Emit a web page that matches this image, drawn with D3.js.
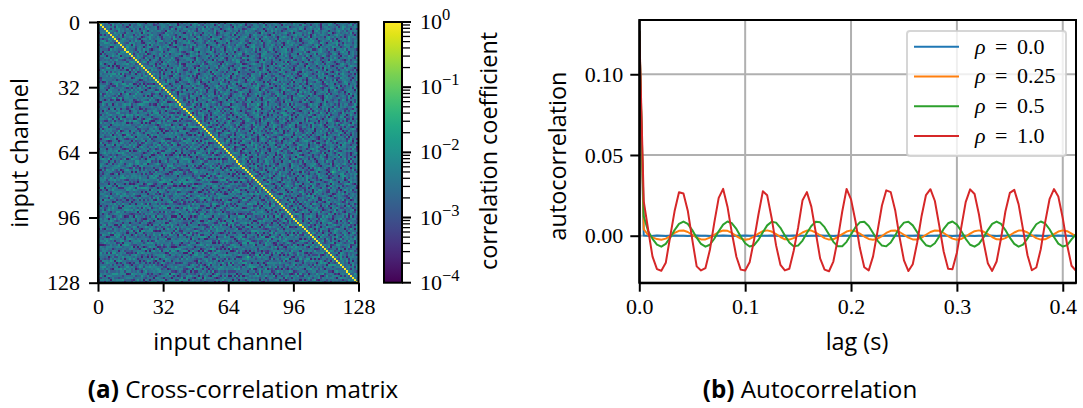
<!DOCTYPE html>
<html>
<style>
 body{ margin:0; background:#fff; }
 svg{ display:block; background:#fff; }
 .tick-label{ font-family:"Liberation Serif",serif; font-size:22px; fill:#000; }
 .label{ font-family:"Open Sans",sans-serif; font-size:23.4px; fill:#000; }
 .caption{ font-family:"Open Sans",sans-serif; font-size:24.2px; fill:#000; }
 .axis path, .axis line{ stroke:#000; stroke-width:2px; }
 .grid line{ stroke:#b0b0b0; stroke-width:2px; }
</style>
<body>
<svg width="1083" height="408"></svg>
</body>
<script src="https://d3js.org/d3.v7.min.js"></script>
<script>

var channelTicks = [0,32,64,96,128];
var lagTicks = [0,0.1,0.2,0.3,0.4];
var lagTickLabels = ["0.0","0.1","0.2","0.3","0.4"];
var acfTicks = [0,0.05,0.10];
var acfTickLabels = ["0.00","0.05","0.10"];
var rhoLabels = ["0.0","0.25","0.5","1.0"];
var lineColors = ["#1f77b4","#ff7f0e","#2ca02c","#d62728"];
var cbarExponents = [0,-1,-2,-3,-4];
var cbarMinors = [2,3,4,5,6,7,8,9];

// lag of each sample in seconds
var lags = [0,0.0042,0.0083,0.0125,0.0167,0.0208,0.025,0.0292,0.0333,0.0375,
0.0417,0.0458,0.05,0.0542,0.0583,0.0625,0.0667,0.0708,0.075,0.0792,
0.0833,0.0875,0.0917,0.0958,0.1,0.1042,0.1083,0.1125,0.1167,0.1208,
0.125,0.1292,0.1333,0.1375,0.1417,0.1458,0.15,0.1542,0.1583,0.1625,
0.1667,0.1708,0.175,0.1792,0.1833,0.1875,0.1917,0.1958,0.2,0.2042,
0.2083,0.2125,0.2167,0.2208,0.225,0.2292,0.2333,0.2375,0.2417,0.2458,
0.25,0.2542,0.2583,0.2625,0.2667,0.2708,0.275,0.2792,0.2833,0.2875,
0.2917,0.2958,0.3,0.3042,0.3083,0.3125,0.3167,0.3208,0.325,0.3292,
0.3333,0.3375,0.3417,0.3458,0.35,0.3542,0.3583,0.3625,0.3667,0.3708,
0.375,0.3792,0.3833,0.3875,0.3917,0.3958,0.4,0.4042,0.4083,0.4125];

var acfRho0 = [0.127,0.0002,0,-0.0001,0.0001,0,-0.0001,0,0.0001,0,
0,-0.0001,0,0.0001,0,0,-0.0001,0,0,0.0001,
0,-0.0001,0,0,0.0001,0,0,-0.0001,0,0,
0.0001,0,-0.0001,0,0,0.0001,0,0,-0.0001,0,
0,0.0001,0,0,-0.0001,0,0.0001,0,0,-0.0001,
0,0,0.0001,0,-0.0001,0,0,0.0001,0,0,
-0.0001,0,0,0.0001,0,-0.0001,0,0,0.0001,0,
0,-0.0001,0,0.0001,0,0,-0.0001,0,0,0.0001,
0,-0.0001,0,0,0.0001,0,0,-0.0001,0,0,
0.0001,0,-0.0001,0,0,0.0001,0,0,-0.0001,0];

var acfRho25 = [0.127,0.004,0.0005,-0.001,-0.0021,-0.0025,-0.0018,-0.0002,0.0017,0.003,
0.0032,0.0023,0.0006,-0.0012,-0.0023,-0.0023,-0.0012,0.0006,0.0023,0.0032,
0.003,0.0017,-0.0002,-0.0018,-0.0025,-0.002,-0.0005,0.0013,0.0028,0.0033,
0.0026,0.001,-0.0008,-0.0022,-0.0024,-0.0015,0.0003,0.002,0.0032,0.0032,
0.002,0.0003,-0.0015,-0.0024,-0.0022,-0.0008,0.001,0.0026,0.0033,0.0028,
0.0013,-0.0005,-0.002,-0.0025,-0.0018,-0.0002,0.0017,0.003,0.0032,0.0023,
0.0006,-0.0012,-0.0023,-0.0023,-0.0012,0.0006,0.0023,0.0032,0.003,0.0017,
-0.0002,-0.0018,-0.0025,-0.002,-0.0005,0.0013,0.0028,0.0033,0.0026,0.001,
-0.0008,-0.0022,-0.0024,-0.0015,0.0003,0.002,0.0032,0.0032,0.002,0.0003,
-0.0015,-0.0024,-0.0022,-0.0008,0.001,0.0026,0.0033,0.0028,0.0013,-0.0005];

var acfRho50 = [0.127,0.012,0.0029,-0.0019,-0.0055,-0.0068,-0.0051,-0.0012,0.0035,0.0073,
0.0088,0.0073,0.0035,-0.0012,-0.0051,-0.0068,-0.0056,-0.0019,0.0028,0.0069,
0.0088,0.0077,0.0042,-0.0005,-0.0047,-0.0067,-0.0059,-0.0026,0.0021,0.0064,
0.0087,0.0081,0.0049,0.0002,-0.0042,-0.0066,-0.0061,-0.003,0.0017,0.006,
0.0086,0.0083,0.0053,0.0007,-0.0038,-0.0065,-0.0065,-0.0038,0.0007,0.0053,
0.0083,0.0086,0.006,0.0017,-0.003,-0.0061,-0.0066,-0.0042,0.0002,0.0049,
0.0081,0.0087,0.0064,0.0021,-0.0026,-0.0059,-0.0067,-0.0047,-0.0005,0.0042,
0.0077,0.0088,0.0069,0.0028,-0.0019,-0.0056,-0.0068,-0.0051,-0.0012,0.0035,
0.0073,0.0088,0.0073,0.0035,-0.0012,-0.0051,-0.0068,-0.0055,-0.0017,0.003,
0.0071,0.0088,0.0076,0.004,-0.0008,-0.0049,-0.0067,-0.0058,-0.0023,0.001];

var acfRho100 = [0.127,0.0213,0.004,-0.013,-0.0207,-0.0217,-0.0168,-0.0004,0.0151,0.0269,
0.0261,0.0155,-0.0023,-0.019,-0.0215,-0.02,-0.0087,0.008,0.0234,0.029,
0.018,0.0015,-0.013,-0.021,-0.0215,-0.0165,-0.003,0.013,0.0275,0.025,
0.011,-0.006,-0.018,-0.0215,-0.0205,-0.0095,0.005,0.022,0.027,0.018,
0.002,-0.014,-0.021,-0.022,-0.016,-0.002,0.015,0.029,0.0225,0.009,
-0.0075,-0.0195,-0.0215,-0.0128,0.0027,0.0187,0.0281,0.027,0.0158,-0.0007,
-0.0153,-0.0219,-0.0177,-0.0042,0.0124,0.0252,0.0288,0.0215,0.0064,-0.0098,
-0.0205,-0.0208,-0.0105,0.0055,0.0208,0.0287,0.0258,0.0133,-0.0033,-0.017,
-0.0218,-0.016,-0.0016,0.015,0.0265,0.0284,0.0194,0.0038,-0.0121,-0.0214,
-0.0197,-0.0084,0.0081,0.0226,0.0289,0.0243,0.0109,-0.0059,-0.0186,-0.0217];

var acfSeries = [acfRho0, acfRho25, acfRho50, acfRho100];

// log10 of the coefficient for each digit used in corrRows
var levelExponents = [-4,-3.8,-3.65,-3.45,-3.2,-2.8,-2.5,-2.25,-1.95,-1.7];

// the matrix is symmetric: one row per channel, cells right of the diagonal only
var corrRows = [
"6756267557476665758665276646377568556626475766874563657756366267785665735576648627556765367756486675266557763566785276656647536",
"7566385767466275578656676345677658667256566377685476667258657663675786265477656836756766275665767487563667527658766356765784",
"5676738665527756667486566725776634657866257675567385766647566752867657436677568657662756678355667745686576267756657368756",
"6637578665746757265686667357566486276577656637586675476625678657756346678756625767586654376677586266757683567765476685672",
"7765486756627675586367667755287665746658675366777565846762567567375867664567726586756356678675467566278657763665786574676",
"5586765376675672867756655438667576752667586563767658247667756836657766574286756637566785472677565863667576587246756675836",
"6675828666375775647866525778665367676584756267758663565776482675667358766756427856756635678674756268567765365786764567526",
"7567366785576246786657537667584626775663786565727667845676567367852667564786657526787663675674582676656378675764625867756",
"6368756657426775865677356664875662756783675654687762567658636775566487267675657386665748562677586637665785472676758656",
"5776647586725665763788566574267675853667764585626776687356657744867657266786537576687654725667786635766584672577686",
"7654877566326786757556468372656778663567548676625767385665786742567568367756567426867756635578766487526677856375664",
"6577285666747385676567624876563657784666725677586356756487662767855663675874657266785763567664786275677658365877",
"5866746762578655376768654267767583657766482567756368756765742688665736677564827676556387665476827567658766356774",
"7665377586742566875636776487665527876656738465772667586356766584726756873656778462566785767335786647562677684",
"6756486727567655836687765743668756276577863665748567266758657637667845762567786536766584267767865536765478672",
"7367565824676586657366778652476685766357756486627575688367656642787665567386754766285676658376675447862567",
"5586744676 2657738656 6764275587 6635667748 5276566573 8676452677 5638766674 5267586367 7556486267 6558743766 5527",
"6775385664 7726756586 3466777542 8656673665 7578426667 5538767765 4266858673 5677564276 6587365567 7426657586 3667",
"7466582677 5365768674 2565777638 6647566284 7756365868 7546267765 5837664756 2667758436 5766286577 4656387667 5425",
"5687366754 6275866573 7665482767 5636877654 4276656688 3577566427 7865635766 7482567756 3686547766 2578653675 6476",
"6554776263 6875766548 3276677565 8436766572 7586654667 2356787664 7565283667 7584665376 4276568657 3766652478 6575",
"7665483675 5726667586 3767544286 6756677358 6654276587 7635666748 5267576863 7565447662 8756636757 6842566775 3687",
"5777664286 5653768756 4667287565 7366584767 6275568634 7766752485 6676355786 6472765658 3766547286 7566375486 7652",
"6486755372 6677586634 7566827654 7765386667 4752686576 3667745862 6757638566 7426758665 3577664826 7565367686 5472",
"7655638466 7274866575 3678565467 2867654736 6778265566 4375867762 6546877356 6684275767 5638665774 2686576537 6657",
"5866472767 5586365776 6842567675 3866574667 2785656347 7668452765 7663586674 7526687653 5676842667 5737866546 2776",
"6574767532 8665766483 6275677586 3654766826 7457656387 6672586644 7765368675 6427785566 3867675428 6657763565 8746",
"6728566475 7636687654 2767586635 4776685267 5663747686 5427667583 6675746862 5766378564 6772866554 3876765267",
"7565386764 6257786636 5487667265 7583675644 7662868765 3566747528 6767563866 7452667785 3656674826 5776637586",
"5674866723 7655876468 2567377665 8546276768 6535774866 6273568764 7566482767 5836654776 2865767634 6875576426",
"6886257565 7643766785 4267566638 7764586265 7767354866 5782646675 8636756747 5268676653 4867726556 7836675464",
"7456367682 6775864567 3266578746 6385676427 7565868634 6767526486 6757365847 6625766854 3677568264 6575738667",
"5767648625 6563877664 7266585746 3787665624 6576883567 6427665786 3546777526 8656764367 5886276456 6738576654",
"6634776582 7565468672 6763586547 7266854676 3567726845 6776536868 7546267657 6385664772 6587543667 7628656745",
"7585263666 7648575637 6627486676 5534787662 5667864736 5677482656 6763858674 6256776835 6764572686 6574376658",
"5662877546 3676854667 7264568763 5766847265 6867536674 4786625757 6386466785 2676574836 6756647285 7656386674",
"6747556387 6652764867 6583756426 7678653466 7285676546 3866774526 5688663757 6442786765 3567648627 7565866374",
"7566483677 2658765664 3786572666 7458367665 7428656768 3576646287 6657385667 7426867556",
"5873666472 7656687354 6766285747 6563876647 5266786753 5647682667 5738466577 6286754663",
"6656274875 6763668754 2576678635 7466825767 5683676454 7286675653 7866246776 5836657746",
"7744586362 7686565473 6678256766 4385776562 6847667536 6582747665 4368677526 8657646375",
"5668726547 6763586675 4426877656 3765686247 6675738564 6672865576 3476682576 7653864767",
"6537656842 7766385647 6725867565 4367788256 6746533687 6672547656 8367664758 2675676543",
"7875463667 2566784736 5768652647 6673856675 4827656637 7685426765 7368566472 7586657364",
"6264877565 3687664756 2578676345 6867526647 7563688746 5267657638 6754866275 7664385767",
"5746685372 6676586447 2667578356 6784576263 7665488762 5637665874 2676756835 6646772586",
"7655824667 5387664775 6268576436 7768254656 7386664857 2667564378 6756482676 5587365647",
"6668347265 7756842676 5636787546 6274586673 7657468265 6673857664 7526678653",
"7473666582 6575687246 6737865646 2857667543 7686264576 6748356672 7565886423",
"5765286674 7636855767 4265678364 6772586546 7635477682 6566873647 5726675864",
"6586745266 3777654862 5676385746 6627587663 5468772656 6473866785 2656746378",
"7642567836 6758646275 7653486677 2566874635 7686625477 5638656764 2877656463",
"5787364662 5676847536 6728657746 6358267565 7486673546 7682665758 3647652676",
"6654877265 3676485666 2768574637 5866477263 6765843657 6627685764 5378662547",
"7566246788 5637665476 8267766535 4786672656 7386645867 2576766384 6557862764",
"5683767544 7266875663 6748527657 6654368776 2665874637 5776482566 7683564627",
"6745566287 6674835766 5267748654 3687656627 7584663765 4267866753 5676482765",
"7676358462 6565778446 2687653675 6872546766 3585676764 2657486637",
"5664872767 5386657462 6776485635 7267566843 6788652476 6537746865",
"6867546263 7765387656 4626778545 3676862675 6674758326 6586746267",
"7553666874 2676858647 5637762656 8476543687 6726567584 3667756628",
"5676824567 3766485762 6657684376 6275658467 7365687426 6576538677",
"6485367726 5667864657 3276568744 6767285663 5786746526 6873657664",
"7664572686 5673847665 2766853674 5867426576 3668745662 7586436767",
"5787634662 7654586276 6638675744 2676856536 7765482667 5368766452",
"6566482775 6837665476 7263586657 6784256763 6547682676 5738664626",
"7645786326 6675548672 7663865466 2787564636 7586426567 6837646752",
"5668473767 2656867546 6375762688 5466737625 6785476636",
"6576284663 7648757365 6276685464 7386657526 6748663765",
"7855362676 4678566427 6765386657 4266778536 7654826675",
"5647768265 7363684576 6652876746 3567865426 6777358664",
"6726586447 5677386662 7548567636 6274868657 5366748276",
"7583665472 6766854637 5627686754 6336787652 4677586566",
"5664378762 6575486676 3765628464 7768356652 7486567637",
"6785264667 5736856644 7268576536 6478665273 7656884657",
"7446376586 2667685745 6637268675 5486767354 6627886565",
"5657864627 6763548766 2767586645 3786652476 6568374767",
"6672487565 7836657462 6675836764 5267768546",
"7565386764 2686775463 6567824767 6534687662",
"5788642676 5367654877 2665867436 6757286654",
"6456673582 6786746627 5763864566 7248657673",
"7667526485 6673786544 7268665376 5847662765",
"5836746672 5687645736 6627588664 3767452687",
"6545867762 6376587464 6278675633 7664856276",
"7664238675 7566486372 6857646576 2367685746",
"5776863546 6724657868 3656776425 8676543667",
"6588476625 3767564686 7246578663 5776642856",
"7456627863 6665487576 3286746665 7583662476",
"5667748263 7586654637 6427865766 5348",
"6735866472 6576388654 7667254686 7563",
"7584266573 6768456627 5836764656 2784",
"5646783762 5677684536 6527686447 5663",
"6672854667 3568766245 7658367646 5782",
"7563468676 2765847665 3686574266 7548",
"5788626547 6637665486 7264576835 6676",
"6457367786 6254868673 5666747283 6557",
"7664582656 7386764526 6785634677 4286",
"5826674763 5687654662 7376486655 7268",
"6575386647 2766885436",
"7668452765 6736578664",
"5743668626 5877654367",
"6586274776 6354687662",
"7665738456 2668756674",
"5874662675 3686547762",
"6467586736 5276648657",
"7628665547 6853767664",
"5756386472 6684675768",
"6683574766 2567486637",
"7545678266",
"6767345886",
"5682766754",
"7456638672",
"6874562667",
"5667287546",
"7536866475",
"6758462677",
"5486673756",
"6675847266"
];

// isolated strong coefficients above the diagonal: row, column, value
var strongCells = [[73,115,0.035],[40,78,0.018],[12,30,0.014]];

var svg = d3.select("svg");

// ---- left panel: cross-correlation matrix
var heatLeft = 98, heatRight = 358.5, heatTop = 22, heatBottom = 282.7;
var channels = d3.range(128);
var cellX = d3.scaleBand().domain(channels).range([heatLeft, heatRight]);
var cellY = d3.scaleBand().domain(channels).range([heatTop, heatBottom]);
var heatColor = d3.scaleSequentialLog(d3.interpolateViridis).domain([1e-4, 1]);

var rowDigits = corrRows.map(function(r){ return r.replace(/ /g, ""); });
var cells = [];
channels.forEach(function(i){
    channels.forEach(function(j){
	var v;
	if(i == j){ v = 1; }
	else{
	    var a = Math.min(i,j), b = Math.max(i,j);
	    var row = rowDigits[a % rowDigits.length];
	    v = Math.pow(10, levelExponents[+row[(b-a-1) % row.length]]);
	}
	cells.push({i:i, j:j, v:v});
    });
});
strongCells.forEach(function(s){
    cells[s[0]*128 + s[1]].v = s[2];
    cells[s[1]*128 + s[0]].v = s[2];
});

svg.append("g").selectAll("rect")
    .data(cells)
    .enter().append("rect")
    .attr("x", function(d){ return cellX(d.j); })
    .attr("y", function(d){ return cellY(d.i); })
    .attr("width", cellX.bandwidth()+0.3)
    .attr("height", cellY.bandwidth()+0.3)
    .attr("shape-rendering", "crispEdges")
    .attr("fill", function(d){ return heatColor(d.v); });

var chanX = d3.scaleLinear().domain([0,128]).range([heatLeft, heatRight]);
var chanY = d3.scaleLinear().domain([0,128]).range([heatTop, heatBottom]);

function styleAxis(g){
    g.attr("class", "axis");
    g.selectAll("text").attr("class", "tick-label");
}

svg.append("g")
    .attr("transform", "translate(0," + heatBottom + ")")
    .call(d3.axisBottom(chanX).tickValues(channelTicks).tickSize(9).tickPadding(7).tickSizeOuter(0))
    .call(styleAxis);
svg.append("g")
    .attr("transform", "translate(" + heatLeft + ",0)")
    .call(d3.axisLeft(chanY).tickValues(channelTicks).tickSize(9).tickPadding(9).tickSizeOuter(0))
    .call(styleAxis);
svg.append("rect")
    .attr("x", heatLeft).attr("y", heatTop)
    .attr("width", heatRight-heatLeft).attr("height", heatBottom-heatTop)
    .attr("fill", "none").attr("stroke", "#000").attr("stroke-width", 2);

svg.append("text").attr("class", "label").attr("text-anchor", "middle")
    .attr("x", 228).attr("y", 350).text("input channel");
svg.append("text").attr("class", "label").attr("text-anchor", "middle")
    .attr("transform", "translate(28,153) rotate(-90)").text("input channel");

// ---- colorbar
var cbarLeft = 384, cbarRight = 402;
var cbarScale = d3.scaleLog().domain([1e-4, 1]).range([heatBottom, heatTop]);
var grad = svg.append("defs").append("linearGradient")
    .attr("id", "viridis").attr("x1", 0).attr("y1", 1).attr("x2", 0).attr("y2", 0);
d3.range(0, 1.01, 0.05).forEach(function(t){
    grad.append("stop").attr("offset", t).attr("stop-color", d3.interpolateViridis(t));
});
svg.append("rect")
    .attr("x", cbarLeft).attr("y", heatTop)
    .attr("width", cbarRight-cbarLeft).attr("height", heatBottom-heatTop)
    .attr("fill", "url(#viridis)").attr("stroke", "#000").attr("stroke-width", 2);

cbarExponents.forEach(function(e){
    var v = Math.pow(10, e);
    svg.append("line")
	.attr("x1", cbarRight).attr("x2", 411)
	.attr("y1", cbarScale(v)).attr("y2", cbarScale(v))
	.attr("stroke", "#000").attr("stroke-width", 2);
    var t = svg.append("text").attr("class", "tick-label")
	.attr("x", 420).attr("y", cbarScale(v)+7);
    t.append("tspan").text("10");
    t.append("tspan").attr("dy", -9).style("font-size", "16.5px")
	.text(e == 0 ? "0" : "\u2212" + (-e));
    if(e > -4){
	cbarMinors.forEach(function(m){
	    var mv = m*Math.pow(10, e-1);
	    svg.append("line")
		.attr("x1", cbarRight).attr("x2", 410)
		.attr("y1", cbarScale(mv)).attr("y2", cbarScale(mv))
		.attr("stroke", "#000").attr("stroke-width", 1.3);
	});
    }
});
svg.append("text").attr("class", "label").attr("text-anchor", "middle")
    .attr("transform", "translate(497,151) rotate(-90)").text("correlation coefficient");

// ---- right panel: autocorrelation
var acfLeft = 639.3, acfRight = 1076, acfTop = 20, acfBottom = 282.7;
var x = d3.scaleLinear().domain([0, 0.4125]).range([acfLeft, acfRight]);
var y = d3.scaleLinear().domain([-0.0291, 0.1336]).range([acfBottom, acfTop]);

var grid = svg.append("g").attr("class", "grid");
lagTicks.forEach(function(t){
    grid.append("line").attr("x1", x(t)).attr("x2", x(t)).attr("y1", acfTop).attr("y2", acfBottom);
});
acfTicks.forEach(function(t){
    grid.append("line").attr("x1", acfLeft).attr("x2", acfRight).attr("y1", y(t)).attr("y2", y(t));
});

svg.append("clipPath").attr("id", "acf-clip").append("rect")
    .attr("x", acfLeft).attr("y", acfTop)
    .attr("width", acfRight-acfLeft).attr("height", acfBottom-acfTop);

var line = d3.line()
    .x(function(d,i){ return x(lags[i]); })
    .y(function(d){ return y(d); });

svg.append("g").attr("clip-path", "url(#acf-clip)")
    .selectAll("path").data(acfSeries).enter().append("path")
    .attr("d", line)
    .attr("fill", "none")
    .attr("stroke-width", 2)
    .attr("stroke-linejoin", "round")
    .attr("stroke", function(d,i){ return lineColors[i]; });

svg.append("g")
    .attr("transform", "translate(0," + acfBottom + ")")
    .call(d3.axisBottom(x).tickValues(lagTicks).tickFormat(function(d,i){ return lagTickLabels[i]; })
	  .tickSize(9).tickPadding(7).tickSizeOuter(0))
    .call(styleAxis);
svg.append("g")
    .attr("transform", "translate(" + acfLeft + ",0)")
    .call(d3.axisLeft(y).tickValues(acfTicks).tickFormat(function(d,i){ return acfTickLabels[i]; })
	  .tickSize(9).tickPadding(7).tickSizeOuter(0))
    .call(styleAxis);
svg.append("rect")
    .attr("x", acfLeft).attr("y", acfTop)
    .attr("width", acfRight-acfLeft).attr("height", acfBottom-acfTop)
    .attr("fill", "none").attr("stroke", "#000").attr("stroke-width", 2);

svg.append("text").attr("class", "label").attr("text-anchor", "middle")
    .attr("x", 857).attr("y", 350).text("lag (s)");
svg.append("text").attr("class", "label").attr("text-anchor", "middle")
    .attr("transform", "translate(566,156) rotate(-90)").text("autocorrelation");

// ---- legend
svg.append("rect")
    .attr("x", 907).attr("y", 31).attr("width", 159).attr("height", 125).attr("rx", 3)
    .attr("fill", "#fff").attr("fill-opacity", 0.8)
    .attr("stroke", "#ccc").attr("stroke-opacity", 0.8).attr("stroke-width", 2);
var legendY = d3.scalePoint().domain(rhoLabels).range([46.7, 136]);
rhoLabels.forEach(function(r,i){
    svg.append("line")
	.attr("x1", 914).attr("x2", 959)
	.attr("y1", legendY(r)).attr("y2", legendY(r))
	.attr("stroke", lineColors[i]).attr("stroke-width", 2);
    var t = svg.append("text").attr("class", "tick-label")
	.attr("x", 975).attr("y", legendY(r)+7).style("word-spacing", "4px");
    t.append("tspan").style("font-style", "italic").text("\u03c1");
    t.append("tspan").text(" = " + r);
});

// ---- captions
function caption(cx, tag, rest){
    var t = svg.append("text").attr("class", "caption")
	.attr("x", cx).attr("y", 398).attr("text-anchor", "middle");
    t.append("tspan").style("font-weight", "bold").text(tag);
    t.append("tspan").text(" " + rest);
}
caption(243, "(a)", "Cross-correlation matrix");
caption(810, "(b)", "Autocorrelation");

</script>
</html>
